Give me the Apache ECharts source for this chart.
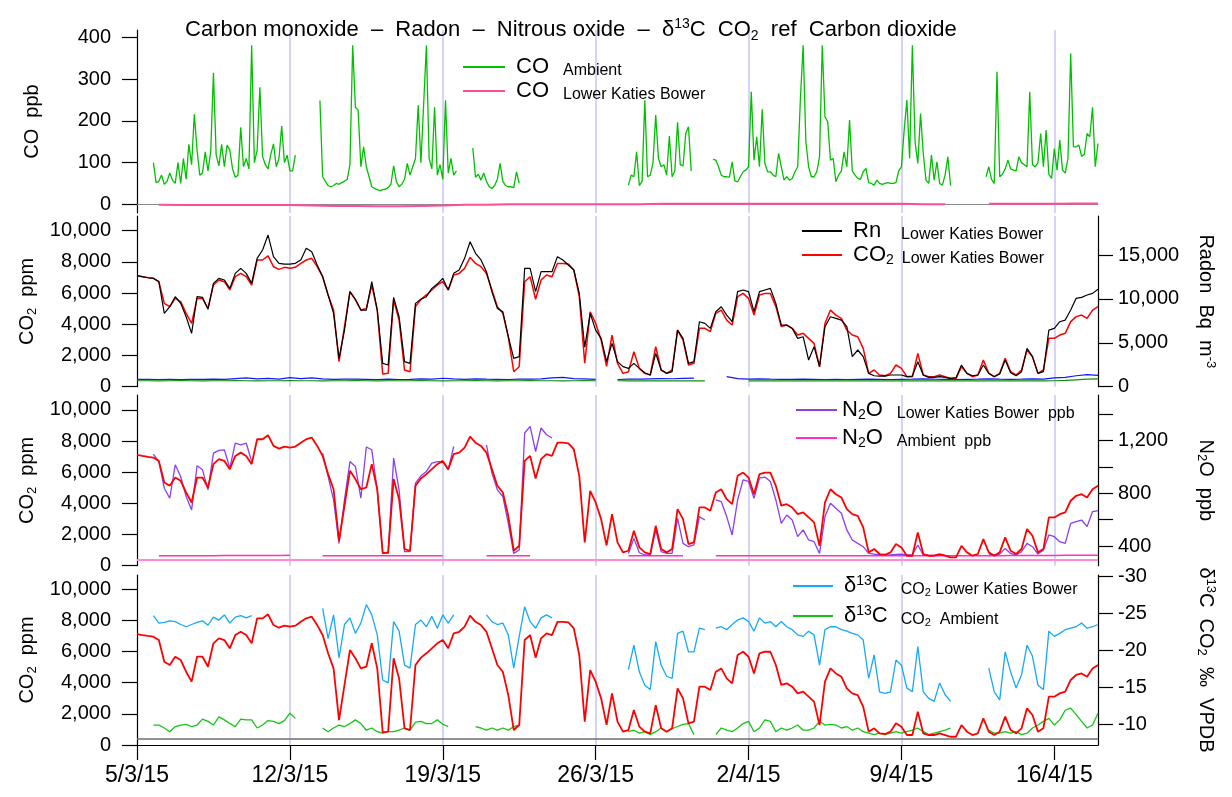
<!DOCTYPE html>
<html>
<head>
<meta charset="utf-8">
<script src="https://cdn.jsdelivr.net/npm/echarts@6/dist/echarts.min.js"></script>
<style>
html,body{margin:0;padding:0;background:#fff;}
#main{width:1232px;height:797px;}
</style>
</head>
<body>
<div id="main"></div>
<script>
// x values are days since 5/3/15 00:00
var dateLabels = ['5/3/15', '12/3/15', '19/3/15', '26/3/15', '2/4/15', '9/4/15', '16/4/15'];
var dayTicks = [0, 7, 14, 21, 28, 35, 42];
var lastDay = 44;

var coTicks = [0, 100, 200, 300, 400];
var co2Ticks = [0, 2000, 4000, 6000, 8000, 10000];
var radonTicks = [0, 5000, 10000, 15000];
var n2oTicks = [400, 600, 800, 1000, 1200, 1400];
var n2oLabels = [400, 800, 1200];
var d13Ticks = [-30, -25, -20, -15, -10];
var co2Ref = 400;   // ppm reference line

// CO ambient, ppb, every 3 h
var coAmbient = [
  null, null, null, null, null, null, 100, 52,   // 5/3
  55, 70, 48, 55, 75, 58, 50, 100,
  50, 110, 60, 144, 95, 216, 130, 70,
  75, 126, 80, 126, 316, 118, 92, 144,
  90, 142, 130, 85, 65, 70, 185, 90,
  110, 85, 382, 100, 130, 281, 115, 95,
  85, 120, 145, 90, 110, 188, 100, 118,
  80, 80, 118, null, null, null, null, null,     // 12/3
  null, null, null, 249, 66, 55, 45, 42,
  45, 50, 48, 52, 55, 60, 95, 382,
  233, 226, 90, 138, 90, 66, 42, 38,
  35, 33, 35, 36, 40, 48, 92, 55,
  42, 48, 60, 98, 70, 90, 110, 238,
  100, 240, 382, 110, 85, 233, 70, 95,
  60, 250, 75, 110, 70, 80, null, null,          // 19/3
  null, null, null, 135, 65, 72, 58, 75,
  55, 42, 38, 45, 60, 98, 55, 45,
  42, 42, 40, 78, 50, null, null, null,
  null, null, null, null, null, null, null, null,
  null, null, null, null, null, null, null, null,
  null, null, null, null, null, null, null, null,
  null, null, null, null, null, null, null, null,  // 26/3
  null, null, null, null, 46, 70, 66, 126,
  45, 55, 250, 66, 70, 100, 214, 110,
  90, 95, 70, 164, 66, 80, 197, 95,
  92, 170, 186, 80, null, null, null, null,
  null, null, null, 108, 106, 90, 70, 66,
  66, 65, 102, 56, 54, 66, 78, 82,
  90, 270, 106, 162, 90, 228, 98, 78,            // 2/4
  78, 70, 66, 122, 90, 58, 66, 58,
  62, 78, 90, 254, 382, 150, 90, 66,
  66, 78, 114, 382, 210, 198, 106, 110,
  54, 70, 80, 126, 90, 202, 80, 70,
  62, 60, 78, 86, 52, 50, 46, 58,
  50, 48, 50, 52, 50, 50, 52, 80,
  90, 178, 250, 110, 382, 150, 98, 218,          // 9/4
  122, 58, 50, 118, 58, 102, 50, 46,
  70, 114, 45, null, null, null, null, null,
  null, null, null, null, null, null, null, 66,
  90, 60, 50, 318, 66, 72, 85, 106,
  85, 82, 80, 114, 100, 95, 90, 270,
  95, 90, 100, 170, 90, 178, 72, 62,
  134, 82, 154, 82, 75, 110, 362, 138,           // 16/4
  138, 142, 115, 120, 170, 162, 233, 90,
  146
];

// CO Lower Katies Bower, ppb, daily
var coLkb = [null, -1, -2, -2, -2, -2, -2, -2, -3, -4, -4, -5, -5, -4, -3, -1, -1, 0, 0, 0, 0, 0,
  0, 0, 1, 1, 1, 1, 1, 1, 1, 1, 1, 1, 1, 1, 0, 0, null, 1, 1, 1, 1, 2, 2];

// CO2 Lower Katies Bower, ppm, every 6 h
var co2Lkb = [
  7115, 7050, 6990, 6945, 6730, 5340, 5130, 5660, 5450, 4700, 4060, 5660,
  5660, 5020, 6520, 6840, 6730, 6200, 7050, 7260, 7050, 6520, 8120, 8120,
  8380, 7690, 7520, 7650, 7585, 7650, 7900, 8120, 8230, 7690, 7050, 5880,
  4910, 1600, 3850, 6090, 5560, 4910, 5020, 6520, 4910, 810, 855, 5560,
  4270, 1070, 960, 5130, 5600, 5880, 6200, 6520, 6730, 6200, 7160, 7260,
  7585, 8290, 7900, 7690, 7260, 6200, 5130, 4700, 3200, 960, 1280, 6730,
  7050, 5600, 6840, 7160, 7050, 7900, 7900, 7860, 7480, 5770, 1500, 4800,
  4060, 2990, 1300, 3310, 1500, 855, 960, 2240, 1175, 855, 750, 2560,
  1070, 855, 1070, 3630, 2990, 1390, 1500, 3740, 3740, 3530, 4700, 4910,
  4270, 3950, 5770, 5980, 5660, 4590, 5880, 5980, 5980, 5130, 3850, 3950,
  3740, 3310, 3420, 3100, 2780, 1280, 4060, 4910, 4590, 4380, 3630, 3310,
  3200, 2460, 855, 1070, 750, 705, 855, 1390, 1175, 640, 640, 2140,
  750, 640, 640, 750, 640, 530, 530, 1280, 855, 640, 750, 1710,
  855, 640, 855, 1820, 960, 750, 1070, 2350, 1920, 855, 1070, 3100,
  3100, 3310, 3420, 4170, 4490, 4590, 4380, 4910, 5130
];

// Radon Lower Katies Bower, Bq m-3, every 6 h
var radonLkb = [
  12640, 12530, 12410, 12340, 11960, 8350, 9110, 10250, 9490, 7970, 6070, 10250,
  10170, 8810, 11770, 12340, 12150, 11200, 12910, 13480, 12910, 11770, 14620, 15570,
  17270, 14810, 14050, 13970, 13970, 14050, 14430, 15760, 15380, 13860, 12530, 10440,
  8350, 3200, 6450, 10820, 9950, 8730, 8730, 11960, 8730, 2660, 2470, 10170,
  7970, 2850, 2660, 9490, 9950, 10250, 11200, 11690, 12340, 11010, 12910, 13290,
  14620, 16510, 15190, 14430, 13100, 10820, 8920, 8540, 5690, 3230, 3420, 13480,
  13480, 10820, 13100, 13100, 13100, 14810, 14430, 13860, 13290, 10630, 4500, 8350,
  6450, 5500, 2850, 4940, 2850, 2280, 2090, 2660, 2090, 1590, 1330, 3800,
  1900, 1520, 1710, 6450, 5500, 2660, 2850, 7400, 7210, 6640, 8540, 9110,
  8160, 7400, 10820, 11010, 10820, 8540, 10820, 11010, 11200, 9490, 7020, 7020,
  6640, 5500, 5690, 3040, 4560, 2280, 6830, 7970, 7780, 7590, 6830, 3420,
  4180, 3420, 1520, 1250, 1210, 1210, 1330, 1330, 1330, 1140, 1210, 2850,
  1330, 1060, 1060, 1140, 1060, 950, 1030, 2470, 1520, 1250, 1330, 2470,
  1520, 1140, 1440, 3040, 1590, 1250, 1710, 4370, 3420, 1520, 1710, 6450,
  6640, 7400, 7590, 8730, 10060, 10170, 10440, 10630, 11090
];

// low traces in the radon panel, ppm, every 12 h
var ambientBlue = [
  470, 470, 460, 470, 460, 470, 470, 480, 470, 520, 560, 500, 530, 480, 580, 520,
  560, 500, 470, 480, 480, 470, 460, 480, 460, 470, 500, 480, 540, 500, 470, 500,
  480, 470, 460, 480, 480, 500, 560, 600, 520, 500, 470, null, 460, 480, 480, 500,
  520, 510, 530, 550, null, null, 640, 520, 480, 500, 480, 470, 470, 480, 470, 460,
  470, 460, 470, 480, 470, 460, 470, 480, 500, 480, 470, 460, 470, 480, 500, 480,
  470, 480, 500, 480, 560, 600, 700, 780, 720
];
var ambientGreen = [
  380, 380, 375, 380, 385, 380, 375, 380, 380, 385, 380, 375, 380, 380, 385, 380,
  380, 375, 380, 380, 385, 380, 375, 380, 380, 380, 385, 380, 375, 380, 380, 385,
  380, 375, 380, 380, 385, 380, 380, 375, 380, 385, 380, null, 380, 370, 370, 375,
  370, 370, 375, 370, 370, null, null, null, 370, 372, 370, 368, 370, 372, 370, 368,
  370, 372, 370, 368, 370, 372, 370, 368, 370, 372, 370, 368, 370, 372, 370, 368,
  370, 372, 370, 368, 380, 400, 440, 480, 500
];

// N2O Lower Katies Bower, ppb, every 6 h
var n2oLkb = [
  null, null, null, 1096, 1040, 838, 762, 1015, 927, 775, 673, 1008,
  977, 825, 1104, 1124, 1129, 990, 1180, 1167, 1180, 1040, null, null,
  null, null, null, null, null, null, null, null, null, null, 1104, 927,
  749, 420, 749, 1040, 1003, 762, 1150, 1129, 825, 349, 344, 1066,
  825, 357, 357, 876, 932, 965, 1028, 1040, 1040, 977, 1154, null,
  null, null, null, null, 1167, 952, 825, 775, 572, 344, 370, 1256,
  1306, 1116, 1294, 1243, 1218, null, null, null, null, null, null, null,
  null, null, null, null, null, null, 344, 458, 349, 332, 332, 522,
  357, 344, 344, 610, 420, 395, 408, 623, 597, null, 749, 737,
  623, 484, 749, 901, 889, 762, 914, 922, 889, 749, 572, 635,
  597, 471, 522, 446, 433, 344, 623, 724, 686, 648, 522, 446,
  420, 395, 344, 339, 332, 332, 332, 337, 339, 332, 332, 408,
  332, 329, 329, 332, 329, null, null, null, null, null, null, null,
  339, 332, 339, 382, 344, 332, 357, 420, 395, 339, 370, 484,
  471, 433, 420, 572, 585, 597, 547, 661, 668
];

// N2O ambient, ppb, every 12 h
var n2oAmbient = [
  null, null, 327, 327, 327, 327, 327, 327, 328, 328, 328, 328, 329, 329, 330, null,
  null, 327, 327, 327, 327, 327, 327, 327, 327, 327, 327, 327, 327, null, null, null,
  327, 327, 327, 327, 327, null, null, null, null, null, null, null, null, 327, 327, 327,
  327, 327, 327, null, null, 327, 327, 327, 327, 327, 327, 327, 327, 327, 327, 327,
  327, 327, 327, 327, 327, 327, 327, 327, 327, 327, 327, 327, 327, 327, 327, 327,
  328, 328, 328, 329, 329, 330, 330, 331, 331
];

// delta 13C of CO2, per mil VPDB, every 6 h
var d13cLkb = [
  null, null, null, -24.7, -23.7, -23.8, -24.0, -23.9, -23.5, -23.2, -23.5, -23.8,
  -24.0, -23.4, -24.5, -24.1, -24.8, -23.7, -24.5, -24.7, -24.4, -24.7, null, null,
  null, null, null, null, null, null, null, null, null, null, -25.7, -21.6,
  -24.8, -19.0, -23.5, -24.4, -22.3, -23.7, -26.2, -24.8, -22.1, -16.0, -15.6, -23.9,
  -22.6, -18.0, -17.6, -23.5, -24.1, -23.2, -24.6, -23.0, -24.8, -23.7, -24.8, null,
  null, null, null, null, -24.8, -23.9, -23.5, -23.7, -22.1, -17.6, -21.9, -25.9,
  -23.9, -23.0, -24.4, -24.8, -24.4, null, null, null, null, null, null, null,
  null, null, null, null, null, null, -17.4, -20.7, -17.1, -15.3, -14.7, -21.2,
  -18.0, -16.5, -16.2, -22.3, -22.6, -19.8, -19.8, -23.0, -22.8, null, -23.0, -23.2,
  -22.8, -23.5, -24.1, -24.4, -23.9, -22.6, -24.4, -23.7, -23.9, -23.2, -23.9, -23.2,
  -22.8, -22.1, -21.9, -22.6, -22.1, -18.0, -22.8, -23.2, -23.2, -22.8, -22.6, -22.3,
  -22.1, -21.4, -16.2, -19.4, -14.4, -14.2, -14.4, -18.7, -18.0, -14.9, -14.4, -20.5,
  -14.4, -13.5, -13.1, -15.6, -14.0, -13.1, null, null, null, null, null, null,
  -17.6, -14.4, -13.3, -19.8, -17.1, -14.9, -16.7, -20.7, -19.2, -15.3, -14.7, -22.6,
  -21.9, -22.3, -22.8, -23.0, -23.2, -23.7, -23.0, -23.2, -23.5
];
var d13cAmbient = [
  null, null, null, -9.9, -9.9, -9.5, -9.0, -9.7, -9.9, -10.0, -9.7, -9.9,
  -10.7, -10.4, -9.9, -11.0, -10.6, -10.1, -9.7, -10.7, -10.6, -10.6, -9.5, -9.9,
  -10.5, -10.4, -10.1, -10.5, -11.5, -10.8, null, null, null, null, -9.5, -9.0,
  -9.5, -9.9, -9.7, -10.1, -10.6, -10.1, -9.2, -9.5, -9.0, -8.8, -9.0, -9.0,
  -9.2, -9.5, -9.2, -10.3, -10.4, -10.1, -10.1, -10.6, -10.0, -9.7, null, null,
  null, null, -9.7, -9.5, -9.2, -9.5, -9.2, -9.5, -9.2, -9.7, -9.9, null,
  null, null, null, null, null, null, null, null, null, null, null, null,
  null, null, null, null, null, null, -9.0, -9.2, -8.8, -9.0, -8.6, -9.0,
  -9.5, -9.0, -9.4, -9.7, -10.0, -10.1, -8.6, null, null, null, -8.6, -9.5,
  -9.2, -9.0, -9.5, -10.1, -10.4, -9.0, -9.5, -10.6, -10.4, -9.0, -9.5, -9.2,
  -9.5, -9.9, -9.2, -9.2, -9.5, -10.4, -9.9, -10.0, -9.9, -9.5, -9.7, -9.2,
  -9.5, -9.0, -8.8, -8.6, -8.8, -8.6, -8.8, -9.0, -8.8, -9.0, -9.2, -9.5,
  -9.0, -8.6, -8.8, -9.0, -9.2, -9.5, null, null, null, null, null, null,
  -9.2, -8.8, -8.8, -9.0, -8.8, -9.0, -8.6, -8.8, -9.5, -9.9, -10.4, -10.8,
  -9.9, -10.6, -11.9, -12.2, -11.3, -10.4, -9.5, -9.9, -11.5
];

var FONT = 'Liberation Sans, Arial, sans-serif';

function pairs(values, step) {
  return values.map(function (v, i) { return [i * step, v]; });
}
function comma(v) {
  return String(v).replace(/\B(?=(\d{3})+(?!\d))/g, ',');
}

var nameRich = {
  a: {fontSize: 20, fontFamily: FONT, fontWeight: 'normal', color: '#000', lineHeight: 22},
  s: {fontSize: 13, fontFamily: FONT, fontWeight: 'normal', color: '#000', verticalAlign: 'bottom', lineHeight: 6},
  p: {fontSize: 13, fontFamily: FONT, fontWeight: 'normal', color: '#000', verticalAlign: 'top', lineHeight: 8}
};

function leftAxis(grid, min, max, ticks, name) {
  return {
    type: 'value', gridIndex: grid, position: 'left', min: min, max: max,
    axisLine: {show: true, lineStyle: {color: '#000', width: 1.2}},
    axisTick: {show: true, length: 15, customValues: ticks, lineStyle: {color: '#000', width: 1.2}},
    axisLabel: {customValues: ticks, formatter: comma, fontSize: 20, fontFamily: FONT, color: '#000', margin: 26},
    splitLine: {show: false},
    name: name, nameLocation: 'middle', nameGap: 94, nameRotate: 90,
    nameTextStyle: {fontWeight: 'normal', rich: nameRich}
  };
}
function rightAxis(grid, min, max, ticks, labels, name, inverse) {
  return {
    type: 'value', gridIndex: grid, position: 'right', min: min, max: max, inverse: inverse,
    axisLine: {show: true, lineStyle: {color: '#000', width: 1.2}},
    axisTick: {show: true, length: 15, customValues: ticks, lineStyle: {color: '#000', width: 1.2}},
    axisLabel: {customValues: labels, formatter: comma, fontSize: 20, fontFamily: FONT, color: '#000', margin: 20},
    splitLine: {show: false},
    name: name, nameLocation: 'middle', nameGap: 97, nameRotate: -90,
    nameTextStyle: {fontWeight: 'normal', rich: nameRich}
  };
}

var grids = [
  {left: 137, width: 961, top: 30, height: 183},
  {left: 137, width: 961, top: 216, height: 170.7},
  {left: 137, width: 961, top: 395, height: 170.7},
  {left: 137, width: 961, top: 575, height: 170}
];
grids.forEach(function (g) { g.outerBoundsMode = 'none'; g.containLabel = false; });

var xAxes = grids.map(function (g, i) {
  var bottom = i === 3;
  return {
    type: 'value', gridIndex: i, min: 0, max: lastDay, interval: 7,
    axisLine: i === 0 ? {show: true, onZero: true, lineStyle: {color: '#8a8a8a', width: 1}}
      : bottom ? {show: true, onZero: false, lineStyle: {color: '#000', width: 1.2}} : {show: false},
    axisTick: bottom ? {show: true, length: 15, customValues: dayTicks, lineStyle: {color: '#000', width: 1.2}} : {show: false},
    axisLabel: bottom ? {
      show: true, customValues: dayTicks, fontSize: 23, fontFamily: FONT, color: '#000', margin: 19,
      formatter: function (v) { var k = dayTicks.indexOf(v); return k < 0 ? '' : dateLabels[k]; }
    } : {show: false},
    splitLine: {show: true, showMinLine: false, showMaxLine: false, lineStyle: {color: '#c6c6f3', width: 1.5}}
  };
});

var co2Name = '{a|CO}{s|2}{a|  ppm}';

var yAxes = [
  leftAxis(0, -21, 418.5, coTicks, '{a|CO  ppb}'),
  leftAxis(1, 0, 10940, co2Ticks, co2Name),
  rightAxis(1, 0, 19440, radonTicks, radonTicks, '{a|Radon  Bq  m}{p|-3}', false),
  leftAxis(2, 0, 10960, co2Ticks, co2Name),
  rightAxis(2, 251, 1544, n2oTicks, n2oLabels, '{a|N}{s|2}{a|O  ppb}', false),
  leftAxis(3, 0, 10900, co2Ticks, co2Name),
  rightAxis(3, -30.2, -7.2, d13Ticks, d13Ticks, '{a|δ}{p|13}{a|C  CO}{s|2}{a|  ‰  VPDB}', true)
];

function line(name, xi, yi, data, color, width, z) {
  return {
    name: name, type: 'line', xAxisIndex: xi, yAxisIndex: yi, data: data,
    symbol: 'none', showSymbol: false, connectNulls: false, z: z || 2,
    lineStyle: {color: color, width: width}, itemStyle: {color: color}
  };
}

var refLine = function (color, width) {
  return {symbol: 'none', silent: true, label: {show: false}, animation: false,
    lineStyle: {color: color, width: width, type: 'solid'}, data: [{yAxis: co2Ref}]};
};

var co2P3 = line('co2 p3', 2, 3, pairs(co2Lkb, 0.25), '#ff0000', 1.8, 4);
co2P3.markLine = refLine('#ff8ad8', 2);
var co2P4 = line('co2 p4', 3, 5, pairs(co2Lkb, 0.25), '#ff0000', 1.8, 4);
co2P4.markLine = refLine('#6e6e6e', 1.5);

var series = [
  line('CO Ambient', 0, 0, pairs(coAmbient, 0.125), '#00c000', 1.3, 3),
  line('CO LKB', 0, 0, pairs(coLkb, 1), '#ff4d97', 2, 4),
  line('ambient blue', 1, 1, pairs(ambientBlue, 0.5), '#1414ff', 1.2, 2),
  line('ambient green', 1, 1, pairs(ambientGreen, 0.5), '#109010', 1.2, 2),
  line('CO2 LKB', 1, 1, pairs(co2Lkb, 0.25), '#ff0000', 1.5, 3),
  line('Rn LKB', 1, 2, pairs(radonLkb, 0.25), '#000000', 1.2, 4),
  line('N2O Ambient', 2, 4, pairs(n2oAmbient, 0.5), '#ff2ec8', 1.5, 3),
  line('N2O LKB', 2, 4, pairs(n2oLkb, 0.25), '#8a3ff0', 1.3, 3),
  co2P3,
  line('d13C LKB', 3, 6, pairs(d13cLkb, 0.25), '#16a9f6', 1.3, 3),
  line('d13C Ambient', 3, 6, pairs(d13cAmbient, 0.25), '#14c414', 1.3, 3),
  co2P4
];

var legendRich = {
  sp: {width: 6},
  big: {fontSize: 22, fontFamily: FONT, color: '#000', lineHeight: 24},
  sub: {fontSize: 14, fontFamily: FONT, color: '#000', verticalAlign: 'bottom', lineHeight: 8},
  sup: {fontSize: 14, fontFamily: FONT, color: '#000', verticalAlign: 'top', lineHeight: 10},
  sm: {fontSize: 16, fontFamily: FONT, color: '#000', verticalAlign: 'bottom', lineHeight: 20},
  ssub: {fontSize: 11, fontFamily: FONT, color: '#000', verticalAlign: 'bottom', lineHeight: 6},
  g8: {width: 8}, g13: {width: 13}, g14: {width: 14}, g20: {width: 20}
};
var legendText = {
  'CO Ambient': '{sp| }{big|CO}{g14| }{sm|Ambient}',
  'CO LKB': '{sp| }{big|CO}{g14| }{sm|Lower Katies Bower}',
  'Rn LKB': '{sp| }{big|Rn}{g20| }{sm|Lower Katies Bower}',
  'CO2 LKB': '{sp| }{big|CO}{sub|2}{g8| }{sm|Lower Katies Bower}',
  'N2O LKB': '{big|N}{sub|2}{big|O}{g14| }{sm|Lower Katies Bower  ppb}',
  'N2O Ambient': '{big|N}{sub|2}{big|O}{g14| }{sm|Ambient  ppb}',
  'd13C LKB': '{sp| }{big|δ}{sup|13}{big|C}{g13| }{sm|CO}{ssub|2}{sm| Lower Katies Bower}',
  'd13C Ambient': '{sp| }{big|δ}{sup|13}{big|C}{g13| }{sm|CO}{ssub|2}{sm|  Ambient}'
};
function legend(names, left, top, gap, width) {
  return {
    data: names, orient: 'vertical', left: left, top: top, padding: 0, itemGap: gap,
    itemWidth: width, itemHeight: 2, icon: 'rect', selectedMode: false,
    formatter: function (n) { return legendText[n]; },
    textStyle: {fontWeight: 'normal', rich: legendRich}
  };
}

var option = {
  animation: false,
  backgroundColor: '#ffffff',
  title: {
    text: '{t|Carbon monoxide  –  Radon  –  Nitrous oxide  –  δ}{p|13}{t|C  CO}{s|2}{t|  ref  Carbon dioxide}',
    left: 185, top: 17, padding: 0,
    textStyle: {fontWeight: 'normal', rich: {
      t: {fontSize: 22, fontFamily: FONT, fontWeight: 'normal', color: '#000', lineHeight: 26},
      p: {fontSize: 14, fontFamily: FONT, fontWeight: 'normal', color: '#000', verticalAlign: 'top', lineHeight: 8},
      s: {fontSize: 14, fontFamily: FONT, fontWeight: 'normal', color: '#000', verticalAlign: 'bottom', lineHeight: 6}
    }}
  },
  legend: [
    legend(['CO Ambient', 'CO LKB'], 463, 56, 1, 42),
    legend(['Rn LKB', 'CO2 LKB'], 802, 220, 1, 40),
    legend(['N2O LKB', 'N2O Ambient'], 796, 399, 5, 41),
    legend(['d13C LKB', 'd13C Ambient'], 793, 574, 6, 40)
  ],
  grid: grids,
  xAxis: xAxes,
  yAxis: yAxes,
  series: series
};

var myChart = echarts.init(document.getElementById('main'));
myChart.setOption(option);
</script>
</body>
</html>
